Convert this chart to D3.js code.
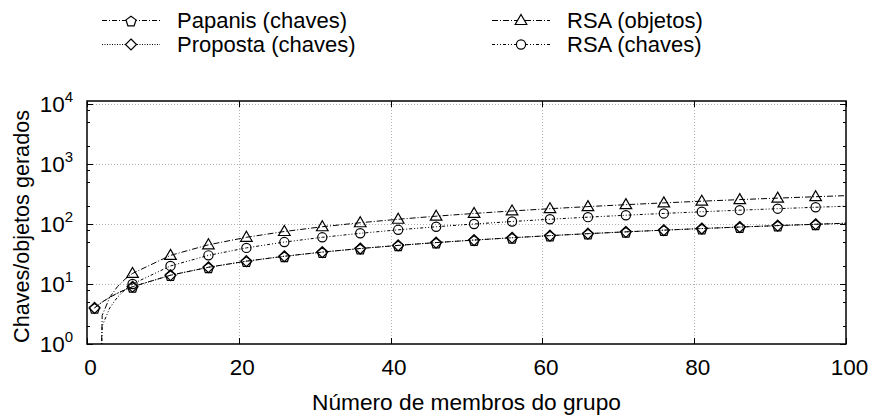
<!DOCTYPE html>
<html><head><meta charset="utf-8">
<script src="https://cdn.jsdelivr.net/npm/d3@7"></script>
<style>body{margin:0;background:#fff}svg{display:block}text{font-family:"Liberation Sans",Arial,sans-serif;fill:#000}</style>
</head><body><svg id="c" width="873" height="417"></svg>
<script>
// ---- data ----
const xs        = [1, 2, 3, 4, 5, 6, 11, 16, 21, 26, 31, 36, 41, 46, 51, 56, 61, 66, 71, 76, 81, 86, 91, 96, 100];
const papanis   = [4, 5, 6, 7, 8, 9, 14, 19, 24, 29, 34, 39, 44, 49, 54, 59, 64, 69, 74, 79, 84, 89, 94, 99, 103];
const proposta  = [4, 5, 6, 7, 8, 9, 14, 19, 24, 29, 34, 39, 44, 49, 54, 59, 64, 69, 74, 79, 84, 89, 94, 99, 103];
const rsaObj    = [0.000001, 3, 6, 9, 12, 15, 30, 45, 60, 75, 90, 105, 120, 135, 150, 165, 180, 195, 210, 225, 240, 255, 270, 285, 297];
const rsaKeys   = [0.000001, 2, 4, 6, 8, 10, 20, 30, 40, 50, 60, 70, 80, 90, 100, 110, 120, 130, 140, 150, 160, 170, 180, 190, 198];
const markerXs  = [1, 6, 11, 16, 21, 26, 31, 36, 41, 46, 51, 56, 61, 66, 71, 76, 81, 86, 91, 96];
const xTicks    = [0, 20, 40, 60, 80, 100];
const yTicks    = [1, 10, 100, 1000, 10000];
const yExps     = ["0", "1", "2", "3", "4"];
const minorMult = [2, 5, 8];
const seriesNames = ["Papanis (chaves)", "Proposta (chaves)", "RSA (objetos)", "RSA (chaves)"];
const xLabel = "Número de membros do grupo";
const yLabel = "Chaves/objetos gerados";

// ---- layout ----
const L = 87, R = 846, T = 101, B = 344, YTOP = 104;
const FS = 22.5;
const svg = d3.select("#c");
const x = d3.scaleLinear().domain([0, 100]).range([L, R]);
const y = d3.scaleLog().domain([1, 10000]).range([B, YTOP]);

svg.append("defs").append("clipPath").attr("id", "clip")
  .append("rect").attr("x", L).attr("y", T).attr("width", R - L).attr("height", B - T);

// grid
const grid = svg.append("g").attr("stroke", "#b0b0b0").attr("stroke-width", 1).attr("stroke-dasharray", "1,2");
grid.selectAll(".gy").data(yTicks.slice(1)).join("line")
  .attr("x1", L).attr("x2", R).attr("y1", d => Math.round(y(d)) + 0.5).attr("y2", d => Math.round(y(d)) + 0.5);
grid.selectAll(".gx").data(xTicks.slice(1, -1)).join("line")
  .attr("y1", T).attr("y2", B).attr("x1", d => Math.round(x(d)) + 0.5).attr("x2", d => Math.round(x(d)) + 0.5);

// ticks
const tk = svg.append("g").attr("stroke", "#000").attr("stroke-width", 1);
yTicks.forEach(v => {
  const yy = Math.round(y(v)) + 0.5;
  tk.append("line").attr("x1", L).attr("x2", L + 6).attr("y1", yy).attr("y2", yy);
  tk.append("line").attr("x1", R).attr("x2", R - 6).attr("y1", yy).attr("y2", yy);
});
yTicks.slice(0, -1).forEach(v => minorMult.forEach(m => {
  const yy = Math.round(y(v * m)) + 0.5;
  tk.append("line").attr("x1", L).attr("x2", L + 3).attr("y1", yy).attr("y2", yy);
  tk.append("line").attr("x1", R).attr("x2", R - 3).attr("y1", yy).attr("y2", yy);
}));
xTicks.forEach(v => {
  const xx = Math.round(x(v)) + 0.5;
  tk.append("line").attr("x1", xx).attr("x2", xx).attr("y1", B).attr("y2", B - 6);
  tk.append("line").attr("x1", xx).attr("x2", xx).attr("y1", T).attr("y2", T + 6);
});

// tick labels
svg.selectAll(".xl").data(xTicks).join("text")
  .attr("x", d => x(d) + 3.5).attr("y", 375).attr("text-anchor", "middle")
  .attr("font-size", FS).text(d => d);
yTicks.forEach((v, i) => {
  const t = svg.append("text").attr("x", 73).attr("y", y(v) + 8).attr("text-anchor", "end").attr("font-size", FS);
  t.append("tspan").text("10");
  t.append("tspan").attr("font-size", 15).attr("dy", -10).text(yExps[i]);
});

// axis labels
svg.append("text").attr("x", 466.5).attr("y", 410).attr("text-anchor", "middle").attr("font-size", 22.7).text(xLabel);
svg.append("text").attr("transform", `translate(28.5,226.5) rotate(-90)`).attr("text-anchor", "middle")
  .attr("font-size", 21.6).text(yLabel);

// series
const dashes = ["5,2,1,2", "1,1.5", "6,2,1,2", "3,2,1,2,1,2"];
const shapes = ["pent", "diamond", "tri", "circle"];
const seriesVals = [papanis, proposta, rsaObj, rsaKeys];

function marker(g, shape, cx, cy) {
  if (shape === "circle") {
    g.append("circle").attr("cx", cx).attr("cy", cy).attr("r", 4.6);
    return;
  }
  let pts;
  if (shape === "pent") pts = d3.range(5).map(k => { const a = -Math.PI / 2 + k * 2 * Math.PI / 5; return [cx + 5.3 * Math.cos(a), cy + 1 + 5.3 * Math.sin(a)]; });
  if (shape === "diamond") pts = [[cx, cy - 5.5], [cx + 5.5, cy], [cx, cy + 5.5], [cx - 5.5, cy]];
  if (shape === "tri") pts = [[cx, cy - 6], [cx + 5.8, cy + 4], [cx - 5.8, cy + 4]];
  g.append("polygon").attr("points", pts.map(p => p.join(",")).join(" "));
}

const plot = svg.append("g").attr("clip-path", "url(#clip)");
const line = d3.line().x(d => x(d[0])).y(d => y(d[1]));
seriesVals.forEach((vals, i) => {
  const data = xs.map((xv, j) => [xv, vals[j]]);
  plot.append("path").attr("d", line(data)).attr("fill", "none").attr("stroke", "#000")
    .attr("stroke-width", 1).attr("stroke-dasharray", dashes[i]);
  const mg = plot.append("g").attr("fill", "none").attr("stroke", "#000").attr("stroke-width", 1.2);
  data.filter(d => markerXs.includes(d[0])).forEach(d => marker(mg, shapes[i], x(d[0]), y(d[1])));
});

// frame
svg.append("rect").attr("x", L).attr("y", T).attr("width", R - L).attr("height", B - T)
  .attr("fill", "none").attr("stroke", "#000").attr("stroke-width", 1.5);

// legend
const LFS = 22;
const legPos = [[102, 160, 177, 20.5], [102, 160, 177, 44.5], [492, 550, 567, 20.5], [492, 550, 567, 44.5]];
seriesNames.forEach((name, i) => {
  const [x1, x2, tx, ly] = legPos[i];
  svg.append("line").attr("x1", x1).attr("x2", x2).attr("y1", ly).attr("y2", ly)
    .attr("stroke", "#000").attr("stroke-width", 1).attr("stroke-dasharray", dashes[i]);
  const g = svg.append("g").attr("fill", "#fff").attr("stroke", "#000").attr("stroke-width", 1.2);
  marker(g, shapes[i], (x1 + x2) / 2, ly);
  svg.append("text").attr("x", tx).attr("y", ly + 7.8).attr("font-size", LFS).text(name);
});
</script></body></html>
